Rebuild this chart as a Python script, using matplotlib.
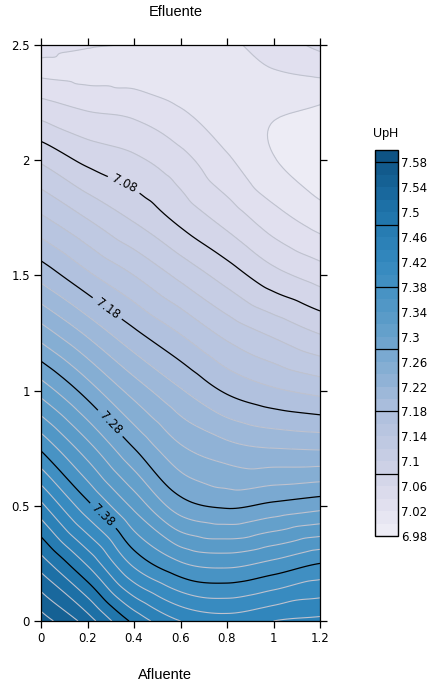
import numpy as np
import matplotlib
matplotlib.use("Agg")
import matplotlib.pyplot as plt
import matplotlib.tri as mtri
from matplotlib.colors import ListedColormap, LinearSegmentedColormap

# ---- data ----
x_vals = [0.0, 0.2, 0.4, 0.6, 0.8, 1.0, 1.2]          # Afluente
y_vals = [0.0, 0.25, 0.5, 0.75, 1.0, 1.25, 1.5, 1.75, 2.0, 2.25, 2.375, 2.5]  # Efluente
# pH values, one row per y value
ph_grid = [
    [7.570, 7.530, 7.475, 7.440, 7.430, 7.440, 7.445],
    [7.510, 7.457, 7.395, 7.362, 7.354, 7.365, 7.380],
    [7.445, 7.386, 7.335, 7.289, 7.277, 7.285, 7.293],
    [7.377, 7.328, 7.280, 7.243, 7.227, 7.220, 7.218],
    [7.312, 7.271, 7.232, 7.202, 7.177, 7.163, 7.154],
    [7.250, 7.216, 7.184, 7.159, 7.134, 7.116, 7.099],
    [7.193, 7.164, 7.140, 7.115, 7.091, 7.067, 7.051],
    [7.143, 7.119, 7.097, 7.074, 7.052, 7.028, 7.010],
    [7.097, 7.075, 7.064, 7.047, 7.023, 7.001, 6.986],
    [7.044, 7.034, 7.030, 7.018, 7.008, 7.004, 7.001],
    [7.018, 7.014, 7.012, 7.010, 7.008, 7.018, 7.023],
    [7.025, 7.021, 7.019, 7.012, 7.016, 7.030, 7.045],
]
level_min, level_max, level_step = 6.98, 7.60, 0.02
major_levels = [7.08, 7.18, 7.28, 7.38, 7.48, 7.58]
label_levels = [7.08, 7.18, 7.28, 7.38]
cbar_ticks = [6.98, 7.02, 7.06, 7.10, 7.14, 7.18, 7.22, 7.26, 7.30, 7.34,
              7.38, 7.42, 7.46, 7.50, 7.54, 7.58]

# colour anchors (value, colour)
cmap_vals = [6.98, 7.04, 7.10, 7.18, 7.26, 7.34, 7.42, 7.50, 7.60]
cmap_cols = ["#f0eff6", "#dedded", "#c9cfe5", "#aebfdd", "#7fabd2",
             "#5599c7", "#3489bf", "#1f74aa", "#0c4f80"]

# ---- figure ----
W, H = 433, 687
fig = plt.figure(figsize=(W / 100, H / 100), dpi=100)
ax = fig.add_axes([41 / W, 1 - 621 / H, 279 / W, 576 / H])
cax = fig.add_axes([375 / W, 1 - 536 / H, 23 / W, 386 / H])

levels = np.round(np.arange(level_min, level_max + 1e-9, level_step), 2)
pos = [(v - level_min) / (level_max - level_min) for v in cmap_vals]
smooth = LinearSegmentedColormap.from_list("uph", list(zip(pos, cmap_cols)))
mids = (levels[:-1] + levels[1:]) / 2
cmap = ListedColormap(smooth((mids - level_min) / (level_max - level_min)))

X, Y = np.meshgrid(np.array(x_vals), np.array(y_vals))
Z = np.array(ph_grid)
tri = mtri.Triangulation(X.ravel(), Y.ravel())
interp = mtri.CubicTriInterpolator(tri, Z.ravel(), kind="geom")
refiner = mtri.UniformTriRefiner(tri)
tri_r, z_r = refiner.refine_field(Z.ravel(), triinterpolator=interp, subdiv=4)

cf = ax.tricontourf(tri_r, z_r, levels=levels, cmap=cmap,
                    vmin=level_min, vmax=level_max)
minor_levels = [l for l in levels if not any(abs(l - m) < 1e-6 for m in major_levels)]
cl_minor = ax.tricontour(tri_r, z_r, levels=minor_levels, colors="#bfc2ce",
                         linewidths=0.8)
cl_major = ax.tricontour(tri_r, z_r, levels=major_levels, colors="black",
                         linewidths=0.9)

label_pos = [(0.35, 1.88), (0.28, 1.35), (0.30, 0.86), (0.26, 0.45)]
ax.clabel(cl_major, levels=label_levels, inline=True, fontsize=8.5,
          fmt=lambda v: f"{v:.2f}", manual=label_pos)

ax.set_xlim(0, 1.2)
ax.set_ylim(0, 2.5)
ax.set_xticks(x_vals)
ax.set_yticks([0, 0.5, 1, 1.5, 2, 2.5])
ax.xaxis.set_major_formatter(matplotlib.ticker.FormatStrFormatter("%g"))
ax.yaxis.set_major_formatter(matplotlib.ticker.FormatStrFormatter("%g"))
ax.tick_params(direction="out", length=5, width=0.9, labelsize=8.5,
               top=True, right=True, labeltop=False, labelright=False,
               colors="black", pad=3)
for sp in ax.spines.values():
    sp.set_linewidth(0.9)

cbar = fig.colorbar(cf, cax=cax, ticks=cbar_ticks)
cbar.add_lines(cl_minor)
cbar.add_lines(cl_major)
cbar.ax.set_yticklabels([f"{t:g}" for t in cbar_ticks])
cbar.ax.tick_params(length=0, labelsize=8.5, pad=2)
cbar.outline.set_linewidth(1.0)
cbar.outline.set_edgecolor("black")

lab_font = {"family": ["Liberation Sans", "DejaVu Sans"], "size": 10.5}
fig.text(176 / W, 1 - 12 / H, "Efluente", ha="center", va="center", **lab_font)
fig.text(164.5 / W, 1 - 675 / H, "Afluente", ha="center", va="center", **lab_font)
fig.text(386 / W, 1 - 134 / H, "UpH", ha="center", va="center",
         family=["Liberation Sans", "DejaVu Sans"], size=9)

fig.savefig("out.png", dpi=100)
